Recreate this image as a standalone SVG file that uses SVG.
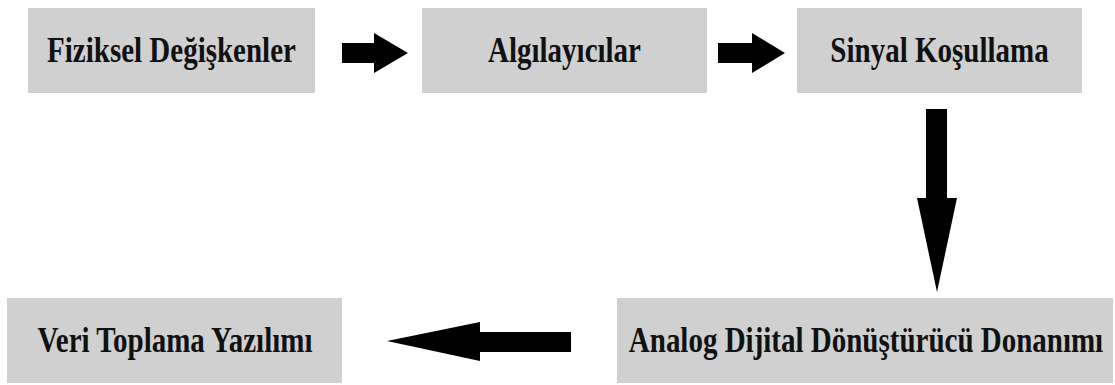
<svg xmlns="http://www.w3.org/2000/svg" width="1115" height="385" viewBox="0 0 1115 385">
<style>
.box{fill:#d0d0d0;}
.lbl{font-family:"Liberation Serif","Times New Roman",serif;font-weight:bold;font-size:29px;fill:#111;text-anchor:middle;}
.arr{fill:#000;}
</style>
<rect width="1115" height="385" fill="#fff"/>
<g id="n1"><rect class="box" x="28" y="8" width="287" height="85"/><text class="lbl" transform="translate(171.5,62) scale(1,1.25)">Fiziksel Değişkenler</text></g>
<g id="n2"><rect class="box" x="422" y="8" width="285" height="85"/><text class="lbl" transform="translate(564.5,62) scale(1,1.25)">Algılayıcılar</text></g>
<g id="n3"><rect class="box" x="797" y="8" width="285" height="85"/><text class="lbl" transform="translate(939.5,62) scale(1,1.25)">Sinyal Koşullama</text></g>
<g id="n4"><rect class="box" x="617" y="298" width="496" height="85"/><text class="lbl" transform="translate(866,352) scale(1,1.25)">Analog Dijital Dönüştürücü Donanımı</text></g>
<g id="n5"><rect class="box" x="7" y="298" width="335" height="85"/><text class="lbl" transform="translate(175,352) scale(1,1.25)">Veri Toplama Yazılımı</text></g>
<g id="connectors">
<polygon class="arr" points="342,43 374,43 374,33 408,53 374,73 374,63 342,63"/>
<polygon class="arr" points="718,43 752,43 752,33 785,53 752,73 752,63 718,63"/>
<polygon class="arr" points="926,109 947,109 947,198 957,198 937,292 917,198 926,198"/>
<polygon class="arr" points="571,332 480,332 480,322 387,341 480,361 480,352 571,352"/>
</g>
</svg>
